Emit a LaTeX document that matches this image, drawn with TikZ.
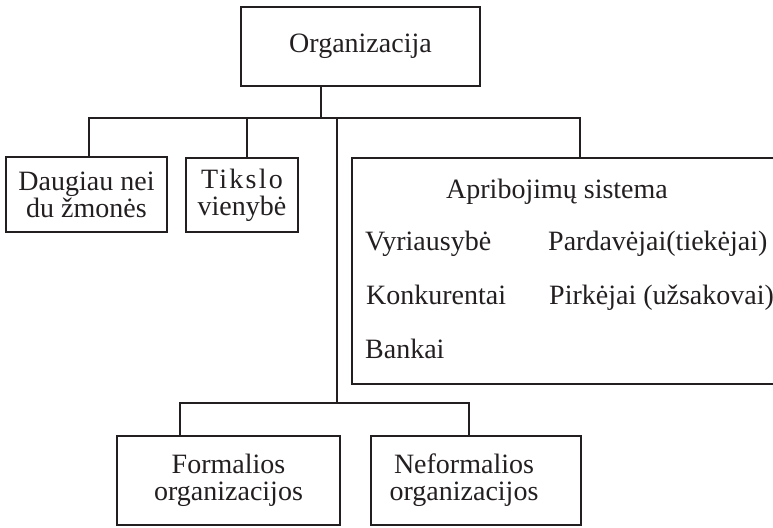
\documentclass[tikz,border=0pt]{standalone}
\usepackage{fontspec}
\setmainfont{Liberation Serif}
\definecolor{ink}{HTML}{231F20}
\begin{document}
\begin{tikzpicture}[x=1pt,y=-1pt,
  box/.style={draw=ink, line width=1.5pt, rectangle, inner sep=0pt, align=center,
    text=ink, font=\fontsize{28}{27}\selectfont},
  txt/.style={inner sep=0pt, text=ink, align=center, font=\fontsize{28}{27}\selectfont},
  conn/.style={draw=ink, line width=1.5pt}]
\clip (0,0) rectangle (773,527);
% boxes
\node[box, minimum width=239pt, minimum height=79pt] (org) at (360.5,46.5) {Organizacija};
\node[box, minimum width=161pt, minimum height=75pt] (daug) at (86.5,194.5) {Daugiau nei\\du žmonės};
\node[box, minimum width=112pt, minimum height=74pt] (tiks) at (242,195) {{\addfontfeature{LetterSpace=8}Tikslo}\\vienybė};
\node[box, minimum width=448pt, minimum height=226pt] (aprib) at (576,271) {};
\node[box, minimum width=223pt, minimum height=89pt] (form) at (228.5,480.5) {Formalios\\organizacijos};
\node[box, minimum width=210pt, minimum height=89pt] (neform) at (476,480.5) {};
\node[txt] (neformt) at (464,480.5) {Neformalios\\organizacijos};
% texts of the constraint system
\node[txt, anchor=base] (as) at (557,198) {Apribojimų sistema};
\node[txt, anchor=base west] (vy) at (365,250) {Vyriausybė};
\node[txt, anchor=base west] (pa) at (548,250) {Pardavėjai(tiekėjai)};
\node[txt, anchor=base west] (ko) at (366,304) {Konkurentai};
\node[txt, anchor=base west] (pi) at (549,304) {Pirkėjai (užsakovai)};
\node[txt, anchor=base west] (ba) at (365,358) {Bankai};
% connectors
\coordinate (j0) at (321,118);
\coordinate (bl) at (89,118);
\coordinate (bt) at (247,118);
\coordinate (bm) at (337,118);
\coordinate (br) at (580,118);
\coordinate (lm) at (337,403);
\coordinate (ll) at (180,403);
\coordinate (lr) at (469,403);
\draw[conn] (org.south -| j0) -- (j0);
\draw[conn] (bl |- daug.north) -- (bl) -- (br) -- (br |- aprib.north);
\draw[conn] (bt) -- (bt |- tiks.north);
\draw[conn] (bm) -- (lm);
\draw[conn] (ll |- form.north) -- (ll) -- (lr) -- (lr |- neform.north);
\end{tikzpicture}
\end{document}
